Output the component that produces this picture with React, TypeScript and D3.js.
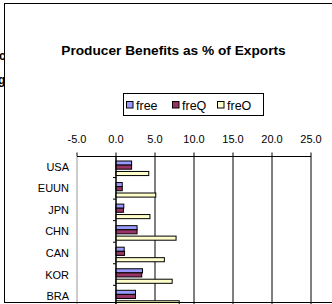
import { useEffect, useRef } from 'react';
import * as d3 from 'd3';

const categories = ['USA', 'EUUN', 'JPN', 'CHN', 'CAN', 'KOR', 'BRA'];
const seriesNames = ['free', 'freQ', 'freO'];
const freeValues = [2.0, 0.8, 1.0, 2.7, 1.05, 3.4, 2.5];
const freQValues = [2.0, 0.8, 0.95, 2.7, 1.1, 3.3, 2.5];
const freOValues = [4.2, 5.1, 4.35, 7.7, 6.2, 7.2, 8.1];
const xTicks = [-5, 0, 5, 10, 15, 20, 25];
const seriesColors = ['#9999FF', '#993366', '#FFFFCC'];
// slot of each series inside a category (Excel leaves a small gap before freO)
const seriesSlots = [0, 1, 2.55];

const FONT = '"Liberation Sans", Arial, sans-serif';

export default function App() {
  const svgRef = useRef<SVGSVGElement>(null);

  useEffect(() => {
    if (!svgRef.current) return;
    const width = 332;
    const height = 304;
    const svg = d3.select(svgRef.current);
    svg.selectAll('*').remove();
    svg.attr('width', width).attr('height', height).style('font-family', FONT);

    svg.append('rect').attr('width', width).attr('height', height).attr('fill', '#fff');

    // bits of a chart sitting behind this one
    svg.append('text').attr('x', -1).attr('y', 60).attr('font-size', 12).attr('font-weight', 'bold').text('c');
    svg.append('text').attr('x', -2).attr('y', 84).attr('font-size', 12).attr('font-weight', 'bold').text('g');

    svg.append('rect')
      .attr('x', 4.5).attr('y', 3.5)
      .attr('width', 340).attr('height', 299)
      .attr('fill', '#fff').attr('stroke', '#000').attr('stroke-width', 1);

    svg.append('text')
      .attr('x', 173.5).attr('y', 55)
      .attr('text-anchor', 'middle')
      .attr('font-size', 13.7).attr('font-weight', 'bold')
      .text('Producer Benefits as % of Exports');

    // legend
    const legend = svg.append('g');
    legend.append('rect')
      .attr('x', 123.5).attr('y', 93.5).attr('width', 140).attr('height', 22)
      .attr('fill', '#fff').attr('stroke', '#000');
    const legendX = [126.5, 172.5, 217.5];
    seriesNames.forEach((name, i) => {
      legend.append('rect')
        .attr('x', legendX[i]).attr('y', 101.5).attr('width', 6.5).attr('height', 6.5)
        .attr('fill', seriesColors[i]).attr('stroke', '#000');
      legend.append('text')
        .attr('x', legendX[i] + 9.5).attr('y', 109.5)
        .attr('font-size', 12.5)
        .text(name);
    });

    const x = d3.scaleLinear().domain([-5, 25]).range([77, 311]);
    const y = d3.scaleBand<string>().domain(categories).range([156, 156 + 21.55 * categories.length]);
    const barH = 4.1;
    const slotY = d3.scaleLinear().domain([0, 1]).range([5, 5 + barH]);

    const top = 156;
    const bottom = 320;

    // gridlines
    svg.append('g').selectAll('line')
      .data(xTicks)
      .join('line')
      .attr('x1', d => x(d)).attr('x2', d => x(d))
      .attr('y1', top).attr('y2', bottom)
      .attr('stroke', d => (d === -5 ? '#999' : '#000'))
      .attr('stroke-width', 1);

    // top value axis
    const axis = svg.append('g');
    axis.append('line')
      .attr('x1', x(-5)).attr('x2', x(25)).attr('y1', top + 0.5).attr('y2', top + 0.5)
      .attr('stroke', '#000');
    axis.selectAll('line.tick')
      .data(xTicks)
      .join('line')
      .attr('class', 'tick')
      .attr('x1', d => x(d)).attr('x2', d => x(d))
      .attr('y1', top - 3.5).attr('y2', top)
      .attr('stroke', '#000');
    axis.selectAll('text')
      .data(xTicks)
      .join('text')
      .attr('x', d => x(d))
      .attr('y', 143)
      .attr('text-anchor', 'middle')
      .attr('font-size', 11)
      .text(d => d.toFixed(1));

    // bars
    const allValues = [freeValues, freQValues, freOValues];
    allValues.forEach((vals, s) => {
      svg.append('g').selectAll('rect')
        .data(vals)
        .join('rect')
        .attr('x', x(0))
        .attr('y', (d, i) => (y(categories[i]) as number) + slotY(seriesSlots[s]))
        .attr('width', d => x(d) - x(0))
        .attr('height', barH)
        .attr('fill', seriesColors[s])
        .attr('stroke', '#000')
        .attr('stroke-width', 1);
    });

    // category axis at zero
    const cat = svg.append('g');
    cat.append('line')
      .attr('x1', x(0)).attr('x2', x(0)).attr('y1', top).attr('y2', bottom)
      .attr('stroke', '#000');
    cat.selectAll('line.tick')
      .data(categories)
      .join('line')
      .attr('class', 'tick')
      .attr('x1', x(0) - 3).attr('x2', x(0))
      .attr('y1', d => (y(d) as number) + y.bandwidth())
      .attr('y2', d => (y(d) as number) + y.bandwidth())
      .attr('stroke', '#000');
    cat.selectAll('text')
      .data(categories)
      .join('text')
      .attr('x', 69)
      .attr('y', d => (y(d) as number) + y.bandwidth() / 2 + 4)
      .attr('text-anchor', 'end')
      .attr('font-size', 11)
      .text(d => d);

    // frame bottom edge
    svg.append('line')
      .attr('x1', 4).attr('x2', width).attr('y1', 302.5).attr('y2', 302.5)
      .attr('stroke', '#000');
  }, []);

  return (
    <div style={{ position: 'absolute', left: 0, top: 0, width: 332, height: 304, overflow: 'hidden' }}>
      <svg ref={svgRef} style={{ display: 'block' }} />
    </div>
  );
}
